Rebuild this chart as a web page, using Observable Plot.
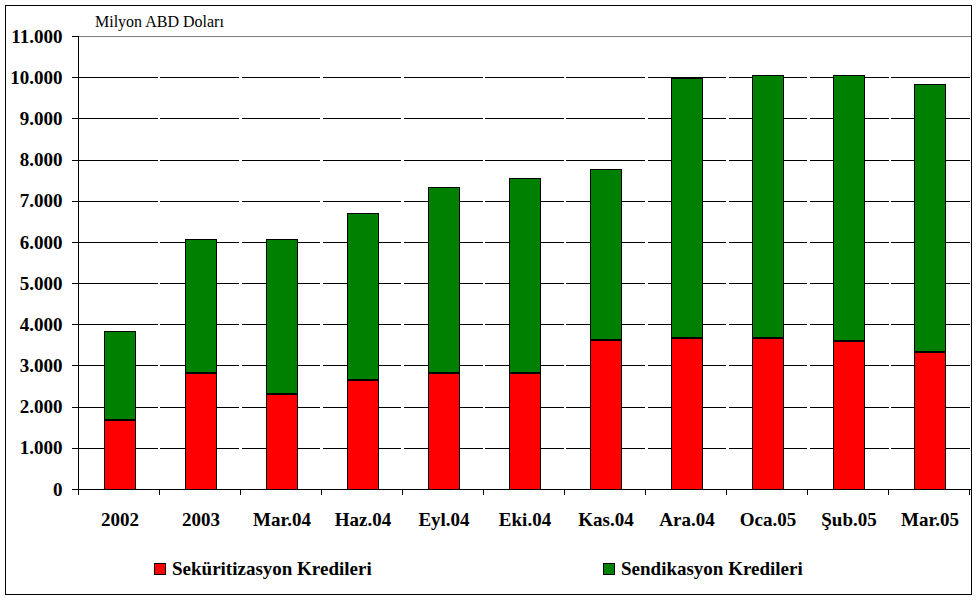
<!DOCTYPE html>
<html>
<head>
<meta charset="utf-8">
<script src="https://cdn.jsdelivr.net/npm/d3@7"></script>
<script src="https://cdn.jsdelivr.net/npm/@observablehq/plot@0.6"></script>
<style>
  body { margin: 0; background: #fff; }
  #wrap { position: relative; width: 977px; height: 600px; overflow: hidden; background: #fff;
          font-family: "Liberation Serif", "DejaVu Serif", serif; color: #000; }
  #chart { position: absolute; left: 0; top: 0; }
  #chart svg line, #chart svg rect, #chart svg path { shape-rendering: crispEdges; }
  #border { position: absolute; left: 5px; top: 5px; width: 967px; height: 590px; border: 1px solid #000;
            box-sizing: border-box; pointer-events: none; }
  #title { position: absolute; left: 95px; top: 14px; font-size: 16px; line-height: 16px; white-space: nowrap; }
  .sw { position: absolute; top: 563px; width: 12px; height: 12px; border: 1px solid #000; box-sizing: border-box; }
  .lt { position: absolute; top: 559px; font-size: 19px; line-height: 19px; font-weight: bold; white-space: nowrap; }
</style>
</head>
<body>
<div id="wrap">
  <div id="chart"></div>
  <div id="title">Milyon ABD Doları</div>
  <div id="legend"></div>
  <div id="border"></div>
</div>
<script>
const categories = ["2002", "2003", "Mar.04", "Haz.04", "Eyl.04", "Eki.04", "Kas.04", "Ara.04", "Oca.05", "Şub.05", "Mar.05"];
const seriesNames = ["Seküritizasyon Kredileri", "Sendikasyon Kredileri"];
const seriesColors = ["#ff0000", "#008000"];
const sekuritizasyon = [1690, 2820, 2310, 2670, 2820, 2820, 3620, 3690, 3670, 3600, 3350];
const sendikasyon = [2130, 3230, 3760, 4010, 4490, 4730, 4150, 6290, 6360, 6430, 6480];
const yTicks = [0, 1000, 2000, 3000, 4000, 5000, 6000, 7000, 8000, 9000, 10000, 11000];
const gridTicks = [1000, 2000, 3000, 4000, 5000, 6000, 7000, 8000, 9000, 10000];

const rows = [];
categories.forEach((c, i) => rows.push({cat: c, series: seriesNames[0], value: sekuritizasyon[i]}));
categories.forEach((c, i) => rows.push({cat: c, series: seriesNames[1], value: sendikasyon[i]}));
const lowerRows = rows.filter(r => r.series === seriesNames[0]);

const tr = d3.formatLocale({decimal: ",", thousands: ".", grouping: [3], currency: ["", ""]});
const fmt = tr.format(",.0f");

const W = 977, H = 600, ML = 78, MR = 6, MT = 36, MB = 111;
const step = (W - ML - MR) / categories.length;

function boundaryTicks(index, scales, values, dims) {
  const x = scales.x, y = scales.y;
  const s = x(categories[1]) - x(categories[0]);
  const bw = s * 0.38;
  const edges = categories.map(c => x(c) + bw / 2 - s / 2);
  edges.push(x(categories[categories.length - 1]) + bw / 2 + s / 2);
  const y0 = y(0);
  const g = d3.create("svg:g").attr("stroke", "#000").attr("fill", "none");
  g.selectAll("line.t").data(edges).join("line").attr("class", "t")
    .attr("x1", d => d).attr("x2", d => d).attr("y1", y0).attr("y2", y0 + 6);
  g.append("line").attr("x1", dims.marginLeft).attr("x2", dims.marginLeft)
    .attr("y1", y(yTicks[yTicks.length - 1])).attr("y2", y0);
  return g.node();
}

const plot = Plot.plot({
  width: W, height: H,
  marginLeft: ML, marginRight: MR, marginTop: MT, marginBottom: MB,
  style: {fontFamily: '"Liberation Serif", "DejaVu Serif", serif', fontSize: "19px", fontWeight: "bold", color: "#000", background: "transparent", overflow: "visible"},
  x: {domain: categories, paddingInner: 0.62, paddingOuter: 0.31, label: null},
  y: {domain: [0, 11000], label: null},
  color: {domain: seriesNames, range: seriesColors},
  marks: [
    Plot.gridY(gridTicks, {stroke: "#000", strokeOpacity: 1, strokeDasharray: `${step - 2.5} 2.5`, strokeDashoffset: -1.25}),
    Plot.frame({stroke: "#808080"}),
    Plot.barY(rows, {x: "cat", y: "value", fill: "series", stroke: "#000", strokeWidth: 1}),
    Plot.tickY(lowerRows, {x: "cat", y: "value", stroke: "#000", strokeWidth: 2}),
    Plot.ruleY([0], {stroke: "#000"}),
    boundaryTicks,
    Plot.axisY(yTicks, {tickSize: 6, tickPadding: 10, tickFormat: fmt, label: null}),
    Plot.axisX({tickSize: 0, tickPadding: 23, label: null})
  ]
});
document.getElementById("chart").appendChild(plot);

const legend = document.getElementById("legend");
const legX = [154, 603];
seriesNames.forEach((name, i) => {
  const sw = document.createElement("div");
  sw.className = "sw";
  sw.style.left = legX[i] + "px";
  sw.style.background = seriesColors[i];
  legend.appendChild(sw);
  const t = document.createElement("div");
  t.className = "lt";
  t.style.left = (legX[i] + 18) + "px";
  t.textContent = name;
  legend.appendChild(t);
});
</script>
</body>
</html>
